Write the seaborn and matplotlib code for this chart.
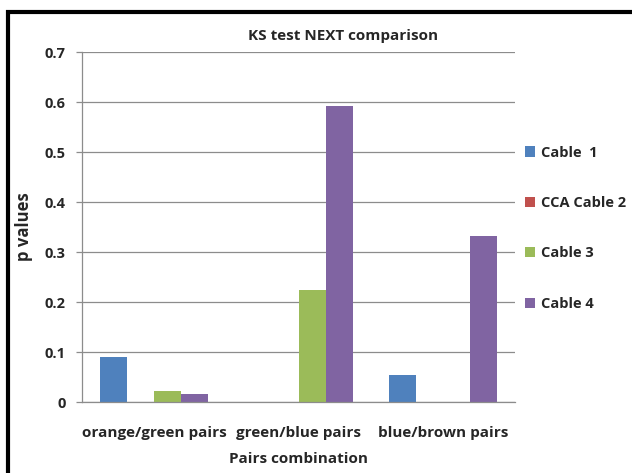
import pandas as pd
import matplotlib
matplotlib.use("Agg")
import matplotlib.pyplot as plt
from matplotlib.patches import Rectangle
from matplotlib.ticker import FixedLocator
import seaborn as sns

# values
pairs = ["orange/green pairs", "green/blue pairs", "blue/brown pairs"]
cables = ["Cable  1", "CCA Cable 2", "Cable 3", "Cable 4"]
cable1 = [0.090, 0.0, 0.054]
cable2 = [0.0, 0.0, 0.0]
cable3 = [0.023, 0.225, 0.0]
cable4 = [0.016, 0.593, 0.333]
yticks = [0, 0.1, 0.2, 0.3, 0.4, 0.5, 0.6, 0.7]
ytick_labels = ["0", "0.1", "0.2", "0.3", "0.4", "0.5", "0.6", "0.7"]
colors = ["#4F81BD", "#C0504D", "#9BBB59", "#8064A2"]

rows = []
for name, vals in zip(cables, [cable1, cable2, cable3, cable4]):
    for p, v in zip(pairs, vals):
        rows.append({"pair": p, "cable": name, "p": v})
df = pd.DataFrame(rows)

sns.set_style("white")
plt.rcParams["font.family"] = ["Open Sans", "DejaVu Sans"]

fig = plt.figure(figsize=(6.32, 4.73), dpi=100)
ax = fig.add_axes([0.130, 0.150, 0.685, 0.740])

sns.barplot(data=df, x="pair", y="p", hue="cable", hue_order=cables,
            order=pairs, palette=colors, width=0.75, linewidth=0,
            saturation=1, ax=ax, legend=True)

ax.set_ylim(0, 0.7)
ax.set_xlim(-0.5, 2.5)
ax.set_yticks(yticks)
ax.set_yticklabels(ytick_labels, fontsize=10.5, fontweight="bold")
ax.grid(axis="y", color="#8c8c8c", linewidth=0.9)
ax.set_axisbelow(True)

ax.set_xticks(range(3))
ax.set_xticklabels(pairs, fontsize=11, fontweight="bold")
ax.xaxis.set_minor_locator(FixedLocator([-0.5, 0.5, 1.5, 2.5]))
ax.tick_params(axis="x", which="major", length=0, pad=17)
ax.tick_params(axis="x", which="minor", length=6, color="#8c8c8c", width=0.9)
ax.tick_params(axis="y", length=4, color="#8c8c8c", width=0.9, pad=8, left=True)

for s in ["top", "right"]:
    ax.spines[s].set_visible(False)
for s in ["left", "bottom"]:
    ax.spines[s].set_color("#8c8c8c")
    ax.spines[s].set_linewidth(0.9)

ax.set_xlabel("Pairs combination", fontsize=11, fontweight="bold", labelpad=9)
ax.set_ylabel("p values", fontsize=12, fontweight="bold", labelpad=8)
ax.set_title("KS test NEXT comparison", fontsize=11, fontweight="bold",
             pad=9, x=0.603)

handles, labels = ax.get_legend_handles_labels()
ax.get_legend().remove()
fig.legend(handles, labels, loc="upper left", bbox_to_anchor=(0.81, 0.72),
           frameon=False, prop={"weight": "bold", "size": 10.5},
           handlelength=0.7, handleheight=0.7, handletextpad=0.4,
           labelspacing=2.5)

# chart frame
fig.patches.append(Rectangle((8 / 632, -0.05), 1.0, 1 - 12 / 473 + 0.05,
                             transform=fig.transFigure, fill=False,
                             edgecolor="black", linewidth=3))

fig.savefig("out.png", dpi=100)
